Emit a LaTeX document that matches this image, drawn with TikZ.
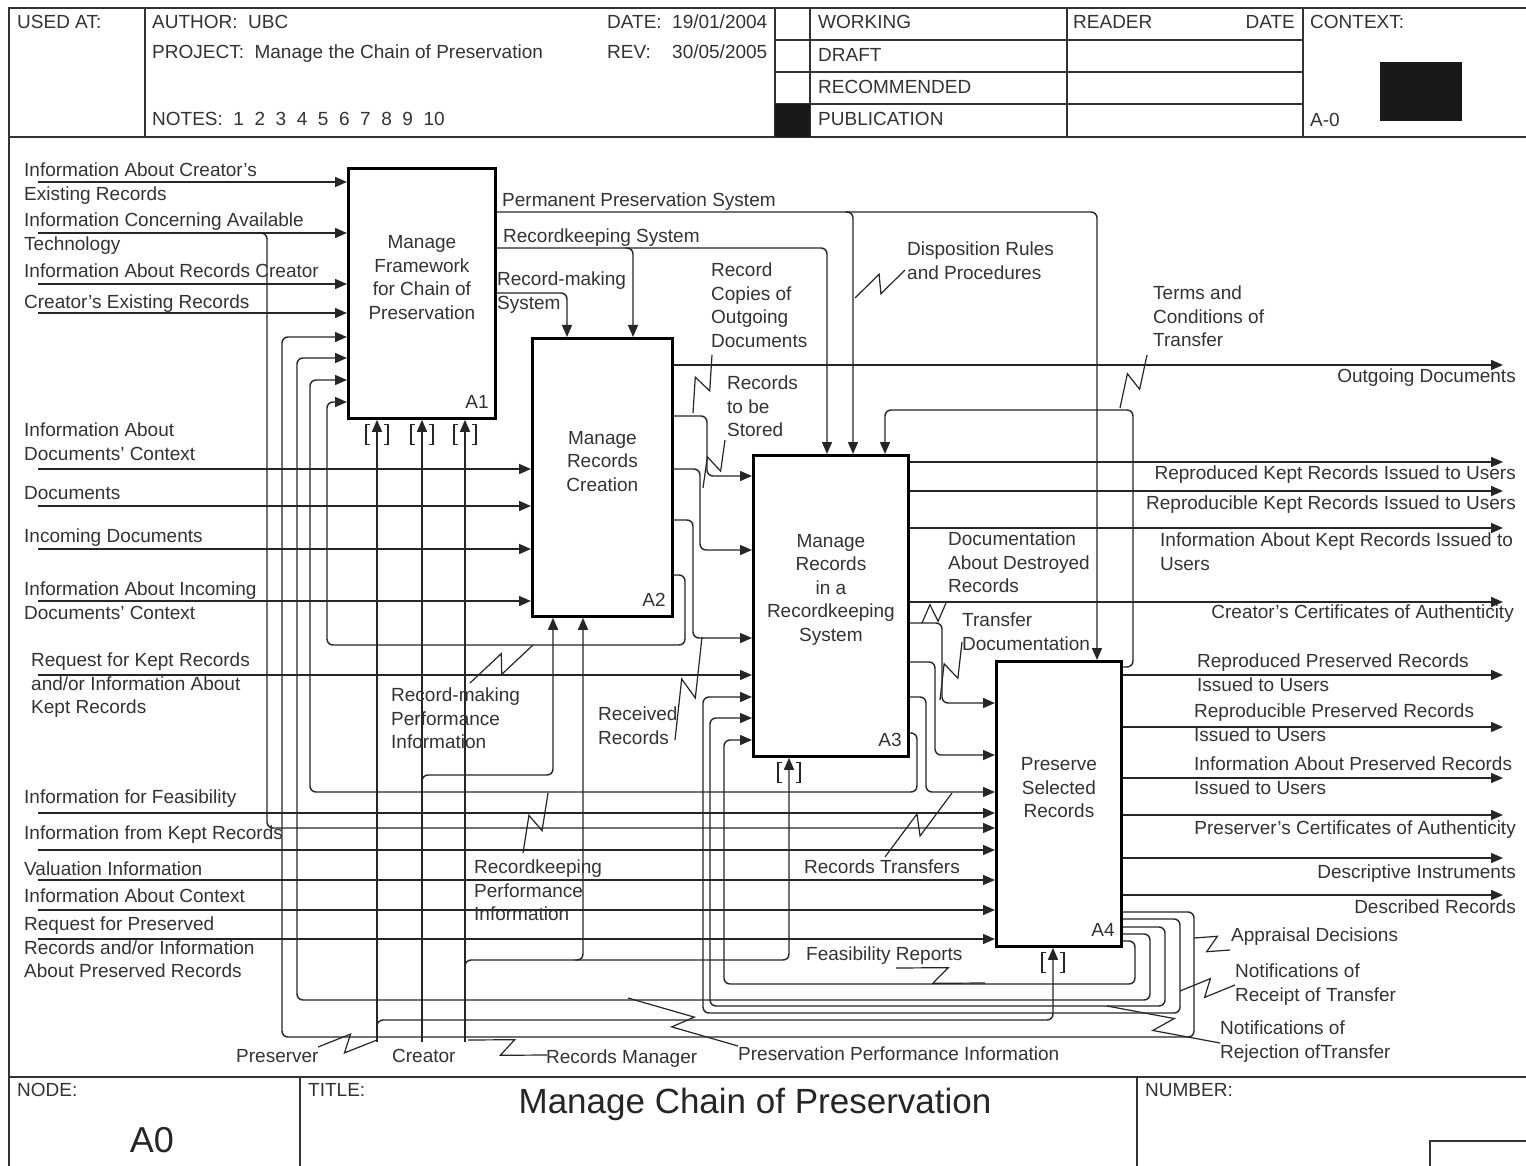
\documentclass[tikz,border=0pt]{standalone}
\usepackage{fontspec}
\setmainfont{Liberation Sans}
\usetikzlibrary{arrows.meta,calc}

\newcommand{\lblfont}{\fontsize{19}{23.5}\selectfont}

\tikzset{
	frame/.style={line width=1.6pt, draw=black!80},
	actbox/.style={draw=black, line width=2.8pt, anchor=north west, inner sep=0pt},
	fntext/.style={font=\lblfont, align=center, text=black!80, inner sep=0pt},
	boxno/.style={font=\lblfont, anchor=east, text=black!80, inner sep=0pt},
	flow/.style={line width=1.4pt, draw=black!85, rounded corners=6pt},
	arr/.style={flow, -{Triangle[length=12pt,width=10pt]}},
	lbl/.style={font=\lblfont, align=left, anchor=north west, inner sep=0pt, text=black!80},
	rlbl/.style={lbl, align=right, anchor=north east},
	pointer/.style={line width=1.2pt, draw=black!85},
	tunnelline/.style={line width=1.1pt, draw=black!85},
}

\newcommand{\squig}[2]{%
	\coordinate (sqa) at (#1); \coordinate (sqb) at (#2);
	\coordinate (sqm) at ($(sqa)!0.57!(sqb)$);
	\coordinate (sqn) at ($(sqa)!0.43!(sqb)$);
	\draw[pointer] (sqa) -- ($(sqm)!9pt!90:(sqb)$) -- ($(sqn)!9pt!-90:(sqb)$) -- (sqb);}

\newcommand{\tunnel}[1]{%
	\draw[tunnelline] ($(#1)+(-7,5)$) -- ($(#1)+(-11,5)$) -- ($(#1)+(-11,25)$) -- ($(#1)+(-7,25)$)
		($(#1)+(7,5)$) -- ($(#1)+(11,5)$) -- ($(#1)+(11,25)$) -- ($(#1)+(7,25)$);}

\begin{document}
\begin{tikzpicture}[x=1pt,y=-1pt]
	\useasboundingbox (0,0) rectangle (1526,1166);
	\fill[white] (0,0) rectangle (1526,1166);

	% form frame
	\draw[frame] (1526,8) -- (9,8) -- (9,1166);
	\draw[frame] (9,137) -- (1526,137);
	\draw[frame] (9,1077) -- (1526,1077);
	\foreach \x in {145,775,810,1067,1303} \draw[frame] (\x,8) -- (\x,137);
	\foreach \y in {40,72,104} \draw[frame] (775,\y) -- (1303,\y);
	\fill[black!90] (775,104) rectangle (810,137);
	\fill[black!90] (1380,62) rectangle (1462,121);
	\draw[frame] (300,1077) -- (300,1166);
	\draw[frame] (1137,1077) -- (1137,1166);
	\draw[frame] (1430,1166) -- (1430,1141) -- (1526,1141);

	\node[lbl] (usedat) at (17,15) {USED AT:};
	\node[lbl] (author) at (152,15) {AUTHOR:\ \ UBC};
	\node[lbl] (project) at (152,45) {PROJECT:\ \ Manage the Chain of Preservation};
	\node[lbl] (notes) at (152,112) {NOTES:\ \ 1\ \ 2\ \ 3\ \ 4\ \ 5\ \ 6\ \ 7\ \ 8\ \ 9\ \ 10};
	\node[lbl] (date) at (607,15) {\makebox[65pt][l]{DATE:}19/01/2004};
	\node[lbl] (rev) at (607,45) {\makebox[65pt][l]{REV:}30/05/2005};
	\node[lbl] (working) at (818,15) {WORKING};
	\node[lbl] (draft) at (818,48) {DRAFT};
	\node[lbl] (recommended) at (818,80) {RECOMMENDED};
	\node[lbl] (publication) at (818,112) {PUBLICATION};
	\node[lbl] (reader) at (1073,15) {READER};
	\node[rlbl] (readerdate) at (1295,15) {DATE};
	\node[lbl] (context) at (1310,15) {CONTEXT:};
	\node[lbl] (ctxno) at (1310,113) {A-0};
	\node[lbl] (nodehd) at (17,1083) {NODE:};
	\node[font=\fontsize{36}{40}\selectfont, text=black!85] (nodeno) at (152,1140) {A0};
	\node[lbl] (titlehd) at (308,1083) {TITLE:};
	\node[font=\fontsize{35}{40}\selectfont, text=black!85, anchor=base, inner sep=0pt] (title) at (755,1113) {Manage Chain of Preservation};
	\node[lbl] (numberhd) at (1145,1083) {NUMBER:};

	% activities
	\node[actbox, minimum width=147pt, minimum height=250pt] (A1) at (347,167) {};
	\node[actbox, minimum width=140pt, minimum height=278pt] (A2) at (531,337) {};
	\node[actbox, minimum width=155pt, minimum height=301pt] (A3) at (752,454) {};
	\node[actbox, minimum width=125pt, minimum height=285pt] (A4) at (995,660) {};
	\node[fntext] at ([yshift=16pt]A1.center) {Manage\\Framework\\for Chain of\\Preservation};
	\node[fntext] at ([yshift=16pt]A2.center) {Manage\\Records\\Creation};
	\node[fntext] at ([yshift=16pt]A3.center) {Manage\\Records\\in a\\Recordkeeping\\System};
	\node[fntext] at ([yshift=16pt]A4.center) {Preserve\\Selected\\Records};
	\node[boxno] at ($(A1.south east)+(-8,-18)$) {A1};
	\node[boxno] at ($(A2.south east)+(-8,-18)$) {A2};
	\node[boxno] at ($(A3.south east)+(-8,-18)$) {A3};
	\node[boxno] at ($(A4.south east)+(-8,-18)$) {A4};

	% inputs from the left edge
	\foreach \y in {182,233,284,313}{
		\coordinate (src) at (38,\y);
		\draw[arr] (src) -- (src -| A1.west);}
	\foreach \y in {469,506,549,601}{
		\coordinate (src) at (38,\y);
		\draw[arr] (src) -- (src -| A2.west);}
	\coordinate (reqkept) at (38,675);
	\draw[arr] (reqkept) -- (reqkept -| A3.west);
	\foreach \y in {813,850,880,910,939}{
		\coordinate (src) at (38,\y);
		\draw[arr] (src) -- (src -| A4.west);}
	\draw[arr] (255,233) -- (267,233) -- (267,828) -- (A4.west |- 0,828);

	% controls
	\draw[arr] (A1.east |- 0,212) -- (1097,212) -- (A4.north -| 1097,0);
	\draw[arr] (845,212) -- (853,212) -- (A3.north -| 853,0);
	\draw[arr] (A1.east |- 0,248) -- (827,248) -- (A3.north -| 827,0);
	\draw[arr] (625,248) -- (633,248) -- (A2.north -| 633,0);
	\draw[arr] (A1.east |- 0,293) -- (567,293) -- (A2.north -| 567,0);
	\draw[arr] (A4.east |- 0,667) -- (1133,667) -- (1133,410) -- (885,410) -- (A3.north -| 885,0);

	% outputs of A2
	\draw[arr] (A2.east |- 0,365) -- (1503,365);
	\draw[arr] (A2.east |- 0,416) -- (707,416) -- (707,476) -- (A3.west |- 0,476);
	\draw[arr] (A2.east |- 0,469) -- (700,469) -- (700,550) -- (A3.west |- 0,550);
	\draw[arr] (A2.east |- 0,520) -- (693,520) -- (693,638) -- (A3.west |- 0,638);
	\draw[arr] (A2.east |- 0,575) -- (685,575) -- (685,645) -- (327,645) -- (327,402) -- (A1.west |- 0,402);

	% outputs of A3
	\foreach \y in {462,491,528,602} \draw[arr] (A3.east |- 0,\y) -- (1503,\y);
	\draw[arr] (A3.east |- 0,623) -- (942,623) -- (942,703) -- (A4.west |- 0,703);
	\draw[arr] (A3.east |- 0,662) -- (935,662) -- (935,755) -- (A4.west |- 0,755);
	\draw[arr] (A3.east |- 0,697) -- (926,697) -- (926,792) -- (A4.west |- 0,792);
	\draw[arr] (A3.east |- 0,733) -- (917,733) -- (917,792) -- (310,792) -- (310,380) -- (A1.west |- 0,380);

	% outputs of A4
	\foreach \y in {675,727,778,815,858,895} \draw[arr] (A4.east |- 0,\y) -- (1503,\y);
	\draw[arr] (A4.east |- 0,941) -- (1135,941) -- (1135,984) -- (724,984) -- (724,740) -- (A3.west |- 0,740);
	\draw[arr] (A4.east |- 0,934) -- (1150,934) -- (1150,1000) -- (297,1000) -- (297,358) -- (A1.west |- 0,358);
	\draw[arr] (A4.east |- 0,927) -- (1165,927) -- (1165,1006) -- (710,1006) -- (710,718) -- (A3.west |- 0,718);
	\draw[arr] (A4.east |- 0,919) -- (1180,919) -- (1180,1013) -- (703,1013) -- (703,697) -- (A3.west |- 0,697);
	\draw[arr] (A4.east |- 0,912) -- (1194,912) -- (1194,1037) -- (282,1037) -- (282,337) -- (A1.west |- 0,337);

	% mechanisms
	\coordinate (preserver) at (377,1042);
	\coordinate (creator) at (422,1042);
	\coordinate (recman) at (465,1042);
	\draw[arr] (preserver) -- (preserver |- A1.south);
	\draw[arr] (creator) -- (creator |- A1.south);
	\draw[arr] (recman) -- (recman |- A1.south);
	\draw[arr] (377,1030) -- (377,1020) -- (1053,1020) -- (A4.south -| 1053,0);
	\draw[arr] (422,787) -- (422,775) -- (553,775) -- (A2.south -| 553,0);
	\draw[arr] (465,972) -- (465,960) -- (789,960) -- (A3.south -| 789,0);
	\draw[arr] (575,960) -- (583,960) -- (A2.south -| 583,0);
	\tunnel{preserver |- A1.south}
	\tunnel{creator |- A1.south}
	\tunnel{recman |- A1.south}
	\tunnel{A3.south -| 789,0}
	\tunnel{A4.south -| 1053,0}

	% labels on the left
	\node[lbl] at (24,163) {Information About Creator's\\Existing Records};
	\node[lbl] at (24,213) {Information Concerning Available\\Technology};
	\node[lbl] at (24,264) {Information About Records Creator};
	\node[lbl] at (24,295) {Creator's Existing Records};
	\node[lbl] at (24,423) {Information About\\Documents' Context};
	\node[lbl] at (24,486) {Documents};
	\node[lbl] at (24,529) {Incoming Documents};
	\node[lbl] at (24,582) {Information About Incoming\\Documents' Context};
	\node[lbl] at (31,653) {Request for Kept Records\\and/or Information About\\Kept Records};
	\node[lbl] at (24,790) {Information for Feasibility};
	\node[lbl] at (24,826) {Information from Kept Records};
	\node[lbl] at (24,862) {Valuation Information};
	\node[lbl] at (24,889) {Information About Context};
	\node[lbl] at (24,917) {Request for Preserved\\Records and/or Information\\About Preserved Records};

	% labels inside
	\node[lbl] at (502,193) {Permanent Preservation System};
	\node[lbl] at (503,229) {Recordkeeping System};
	\node[lbl] at (497,272) {Record-making\\System};
	\node[lbl] at (711,263) {Record\\Copies of\\Outgoing\\Documents};
	\node[lbl] at (907,242) {Disposition Rules\\and Procedures};
	\node[lbl] at (1153,286) {Terms and\\Conditions of\\Transfer};
	\node[lbl] at (727,376) {Records\\to be\\Stored};
	\node[lbl] at (948,532) {Documentation\\About Destroyed\\Records};
	\node[lbl] at (962,613) {Transfer\\Documentation};
	\node[lbl] at (598,707) {Received\\Records};
	\node[lbl] at (391,688) {Record-making\\Performance\\Information};
	\node[lbl] at (474,860) {Recordkeeping\\Performance\\Information};
	\node[lbl] at (804,860) {Records Transfers};
	\node[lbl] at (806,947) {Feasibility Reports};
	\node[lbl] at (236,1049) {Preserver};
	\node[lbl] at (392,1049) {Creator};
	\node[lbl] at (546,1050) {Records Manager};
	\node[lbl] at (738,1047) {Preservation Performance Information};
	\node[lbl] at (1231,928) {Appraisal Decisions};
	\node[lbl] at (1235,964) {Notifications of\\Receipt of Transfer};
	\node[lbl] at (1220,1021) {Notifications of\\Rejection ofTransfer};

	% labels on the right
	\node[rlbl] at (1516,369) {Outgoing Documents};
	\node[rlbl] at (1516,466) {Reproduced Kept Records Issued to Users};
	\node[rlbl] at (1516,496) {Reproducible Kept Records Issued to Users};
	\node[lbl] at (1160,533) {Information About Kept Records Issued to\\Users};
	\node[rlbl] at (1514,605) {Creator's Certificates of Authenticity};
	\node[lbl] at (1197,654) {Reproduced Preserved Records\\Issued to Users};
	\node[lbl] at (1194,704) {Reproducible Preserved Records\\Issued to Users};
	\node[lbl] at (1194,757) {Information About Preserved Records\\Issued to Users};
	\node[rlbl] at (1516,821) {Preserver's Certificates of Authenticity};
	\node[rlbl] at (1516,865) {Descriptive Instruments};
	\node[rlbl] at (1516,900) {Described Records};

	% squiggles
	\squig{855,298}{905,270}
	\squig{712,355}{693,413}
	\squig{725,440}{703,488}
	\squig{1147,355}{1120,408}
	\squig{946,603}{922,623}
	\squig{962,642}{940,700}
	\squig{675,740}{702,637}
	\squig{470,683}{533,645}
	\squig{523,853}{548,793}
	\squig{885,857}{952,793}
	\squig{896,968}{985,983}
	\squig{628,998}{738,1046}
	\squig{468,1040}{547,1055}
	\squig{318,1047}{377,1040}
	\squig{1194,938}{1230,950}
	\squig{1180,991}{1235,985}
	\squig{1107,1006}{1220,1043}
\end{tikzpicture}
\end{document}
